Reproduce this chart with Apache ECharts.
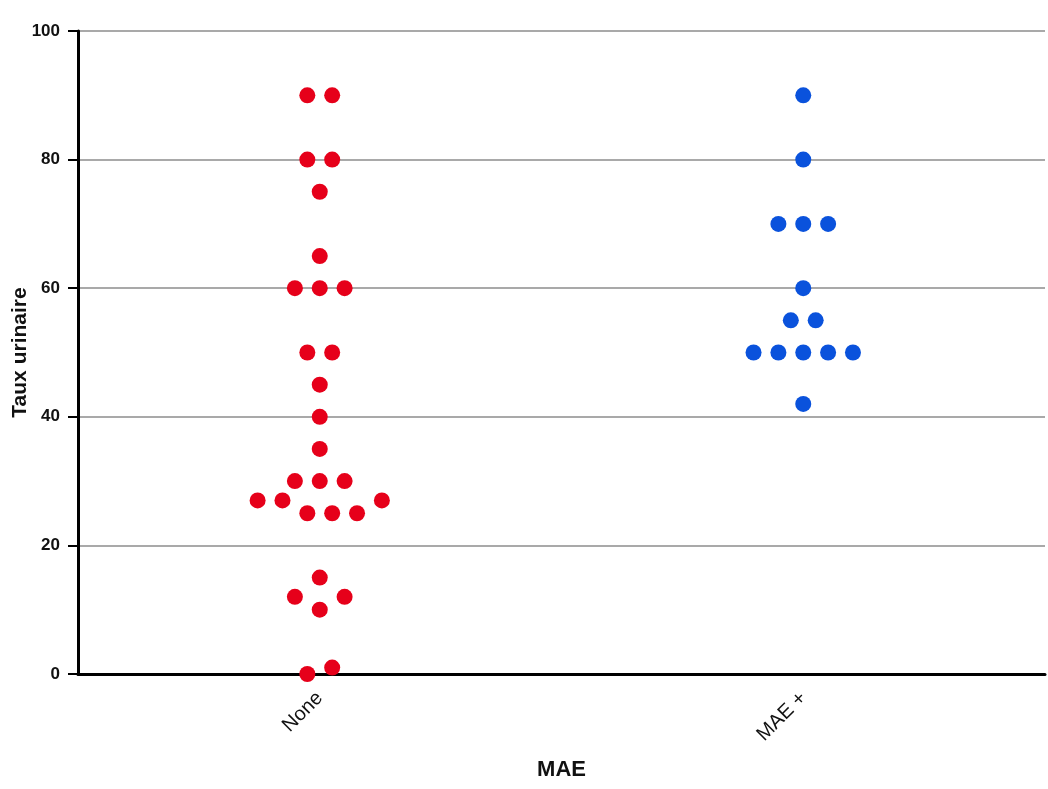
<!DOCTYPE html>
<html>
<head>
<meta charset="utf-8">
<script src="https://cdn.jsdelivr.net/npm/echarts@6/dist/echarts.min.js"></script>
<style>
  html, body { margin: 0; padding: 0; background: #fff; }
  #chart { width: 1048px; height: 789px; }
</style>
</head>
<body>
<div id="chart"></div>
<script>
// Groups on the horizontal axis
const categories = ['None', 'MAE +'];

// Urinary rate per subject, and the swarm slot (in half-dot steps) used to keep dots apart
const noneValues = [90, 90, 80, 80, 75, 65, 60, 60, 60, 50, 50, 45, 40, 35, 30, 30, 30, 27, 27, 27, 25, 25, 25, 15, 12, 12, 10, 0, 1];
const noneSlots  = [-1,  1, -1,  1,  0,  0, -2,  0,  2, -1,  1,  0,  0,  0, -2,  0,  2, -5, -3,  5, -1,  1,  3,  0, -2,  2,  0, -1, 1];

const maePlusValues = [90, 80, 70, 70, 70, 60, 55, 55, 50, 50, 50, 50, 50, 42];
const maePlusSlots  = [ 0,  0, -2,  0,  2,  0, -1,  1, -4, -2,  0,  2,  4,  0];

const yTicks = [0, 20, 40, 60, 80, 100];

// Width of half a dot slot, in units of the hidden numeric x axis (one unit per group)
const halfStep = 0.0257;

function swarm(groupIndex, values, slots) {
  return values.map((v, i) => [groupIndex + 0.5 + slots[i] * halfStep, v]);
}

const chart = echarts.init(document.getElementById('chart'), null, { renderer: 'canvas' });

const labelFont = 'Liberation Sans, Arial, sans-serif';

chart.setOption({
  animation: false,
  backgroundColor: '#ffffff',
  grid: { left: 78, right: 3, top: 31, bottom: 115, containLabel: false, outerBoundsMode: 'none' },
  xAxis: [
    {
      type: 'category',
      data: categories,
      boundaryGap: true,
      name: 'MAE',
      nameLocation: 'middle',
      nameGap: 85,
      nameMoveOverlap: false,
      nameTextStyle: { fontFamily: labelFont, fontWeight: 'bold', fontSize: 22, color: '#111' },
      axisLine: { lineStyle: { color: '#000', width: 3 } },
      axisTick: { alignWithLabel: true, length: 9, lineStyle: { color: '#000', width: 3 } },
      axisLabel: { rotate: 45, margin: 21, fontFamily: labelFont, fontSize: 20, color: '#111' },
      splitLine: { show: false }
    },
    {
      type: 'value',
      min: 0,
      max: 2,
      show: false
    }
  ],
  yAxis: {
    type: 'value',
    min: 0,
    max: 100,
    interval: 20,
    name: 'Taux urinaire',
    nameLocation: 'middle',
    nameGap: 47,
    nameMoveOverlap: false,
    nameTextStyle: { fontFamily: labelFont, fontWeight: 'bold', fontSize: 21, color: '#111' },
    axisLine: { show: true, lineStyle: { color: '#000', width: 3 } },
    axisTick: { show: true, inside: false, length: 10, lineStyle: { color: '#000', width: 2 } },
    axisLabel: {
      margin: 18,
      fontFamily: labelFont,
      fontWeight: 'bold',
      fontSize: 17,
      color: '#111',
      formatter: v => (yTicks.includes(v) ? String(v) : '')
    },
    splitLine: { show: true, lineStyle: { color: '#8c8c8c', width: 1.5 } }
  },
  series: [
    {
      name: 'None',
      type: 'scatter',
      xAxisIndex: 1,
      clip: false,
      symbol: 'circle',
      symbolSize: 16,
      itemStyle: { color: '#e6001a', opacity: 1 },
      data: swarm(0, noneValues, noneSlots),
      z: 5
    },
    {
      name: 'MAE +',
      type: 'scatter',
      xAxisIndex: 1,
      clip: false,
      symbol: 'circle',
      symbolSize: 16,
      itemStyle: { color: '#0a52dc', opacity: 1 },
      data: swarm(1, maePlusValues, maePlusSlots),
      z: 5
    }
  ]
});
</script>
</body>
</html>
